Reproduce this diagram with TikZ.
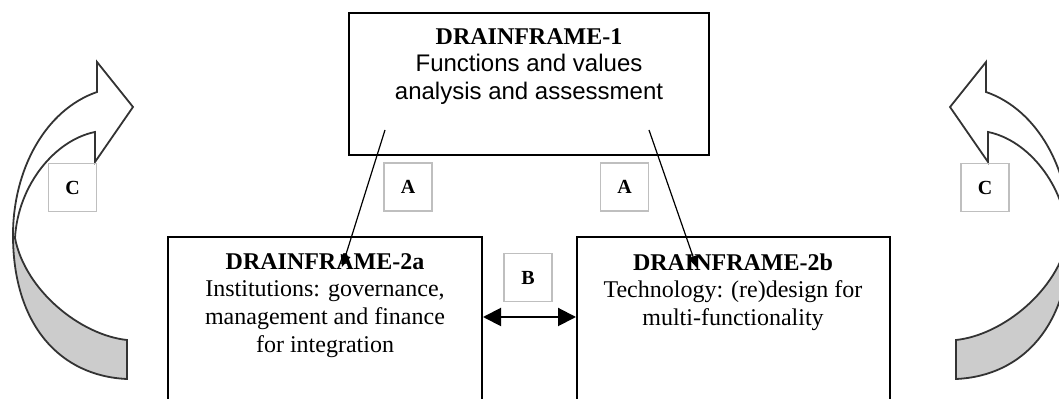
\documentclass[tikz,border=0pt]{standalone}
\usepackage{fontspec}
\setmainfont{Liberation Serif}
\newfontfamily\arialfont{Liberation Sans}
\usetikzlibrary{arrows.meta,calc,positioning}

\begin{document}
\begin{tikzpicture}[x=0.5pt, y=-0.5pt, >={Triangle[length=6pt,width=5pt]},
		font=\fontsize{12}{13.8}\selectfont,
		frame/.style={draw, line width=1pt, inner sep=0pt},
		boxtext/.style={anchor=north, align=center, inner sep=0pt},
		tag/.style={draw=black!25, line width=0.6pt, minimum size=24pt, inner sep=0pt, font=\bfseries},
		ribbon/.style={draw=black!80, line width=0.9pt}]
		\useasboundingbox (0,0) rectangle (1059,399);
		\clip (0,0) rectangle (1059,399);
		% curved arrows at both sides (right one mirrored)
		\foreach \sx/\ox in {1/0,-1/1083} {
			\begin{scope}[shift={(\ox,0)}, xscale=\sx]
				\fill[black!20] (127,379) .. controls (60,376) and (13,325) .. (13,235)
					-- (15,238) .. controls (25,290) and (80,335) .. (127,340) -- cycle;
				\draw[ribbon] (127,379) .. controls (60,376) and (13,325) .. (13,235)
					.. controls (13,170) and (45,110) .. (97,92) -- (97,62) -- (133,107)
					-- (95,162) -- (95,132) .. controls (55,140) and (18,185) .. (15,238)
					.. controls (25,290) and (80,335) .. (127,340) -- cycle;
			\end{scope}
		}
		% boxes
		\node[frame, minimum width=180pt, minimum height=71pt] (df1) at (529,84) {};
		\node[frame, minimum width=157pt, minimum height=90pt] (df2a) at (325,327) {};
		\node[frame, minimum width=156.5pt, minimum height=90pt] (df2b) at (733.5,327) {};
		\node[boxtext] (df1txt) at (529,28) {\textbf{DRAINFRAME-1}\\
			{\arialfont Functions and values}\\{\arialfont analysis and assessment}};
		\node[boxtext] (df2atxt) at (325,253) {\textbf{DRAINFRAME-2a}\\
			Institutions: governance,\\management and finance\\for integration};
		\node[boxtext] (df2btxt) at (733,253) {\textbf{DRAINFRAME-2b}\\
			Technology: (re)design for\\multi-functionality};
		% labels
		\node[tag] (la1) at (408,187) {A};
		\node[tag] (la2) at (624.5,187) {A};
		\node[tag] (lb) at (528,277.5) {B};
		\node[tag] (lc1) at (72.5,187.5) {C};
		\node[tag] (lc2) at (985,187.5) {C};
		% arrows A and B
		\coordinate (a1s) at (385,130);
		\coordinate (a1e) at (342,267);
		\coordinate (a2s) at (649,130);
		\coordinate (a2e) at (697,268);
		\draw[->, line width=0.6pt] (a1s) -- (a1e);
		\draw[->, line width=0.6pt] (a2s) -- (a2e);
		\draw[<->, line width=1pt, >={Triangle[length=9pt,width=9pt]}]
			([yshift=5pt]df2a.east) -- ([yshift=5pt]df2b.west);
	\end{tikzpicture}
\end{document}
